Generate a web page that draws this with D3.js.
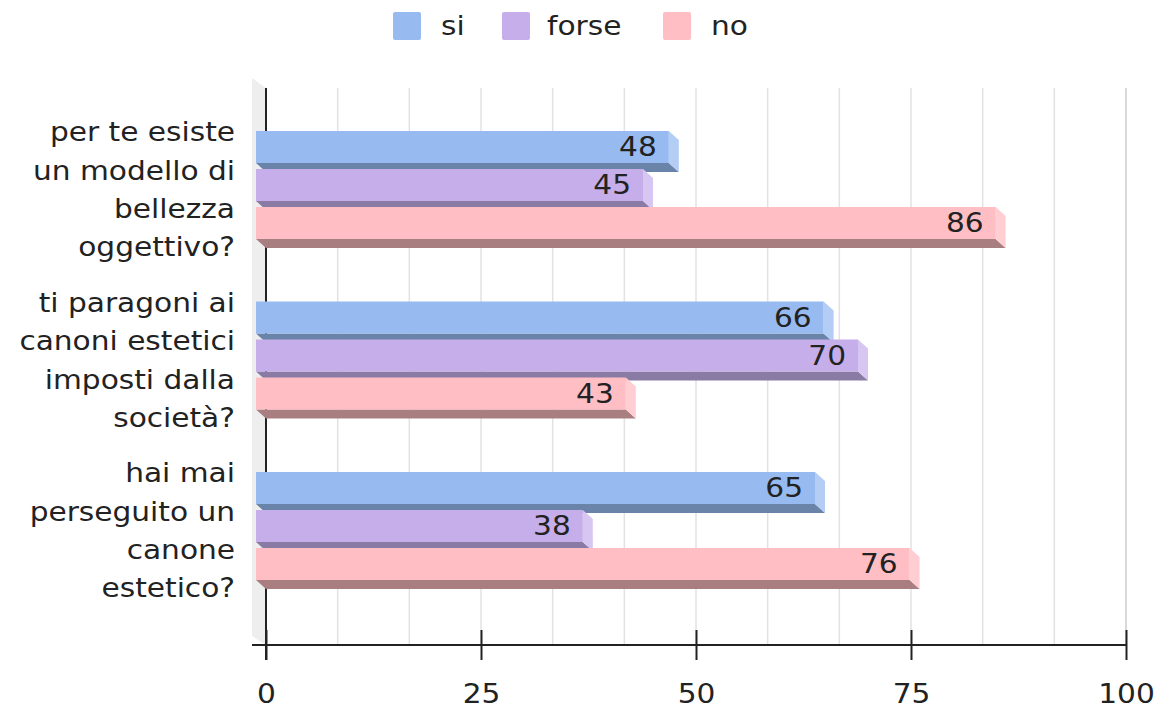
<!DOCTYPE html>
<html>
<head>
<meta charset="utf-8">
<script src="https://cdn.jsdelivr.net/npm/d3@7"></script>
<style>
  html, body { margin: 0; padding: 0; background: #fff; }
  svg { display: block; }
  text { font-family: "DejaVu Sans", Verdana, sans-serif; fill: #222; }
</style>
</head>
<body>
<svg id="chart" width="1157" height="709"></svg>
<script>
// ---- data ----
const categories = [
  "per te esiste|un modello di|bellezza|oggettivo?",
  "ti paragoni ai|canoni estetici|imposti dalla|società?",
  "hai mai|perseguito un|canone|estetico?"
];
const seriesNames = ["si", "forse", "no"];
const siValues = [48, 66, 65];
const forseValues = [45, 70, 38];
const noValues = [86, 43, 76];
const xTicks = [0, 25, 50, 75, 100];

const seriesValues = [siValues, forseValues, noValues];
const colors = {
  front: ["#97BBF0", "#C6AEEA", "#FFBEC4"],
  side:  ["#B3CDF5", "#D6C6F1", "#FFCED3"],
  bottom:["#6A83A8", "#8A7BA5", "#A87E81"]
};

const svg = d3.select("#chart");
const SX = 1.14;          // horizontal text stretch
const FS = 26;            // font size
const depth = {dx: 10, dy: 9};

const x = d3.scaleLinear().domain([0, 100]).range([266, 1126]);   // back plane
const y = d3.scaleBand().domain(categories).range([104.25, 615.75]).paddingInner(0);
const ySeries = d3.scaleBand().domain(seriesNames).range([0, 114]);
const barH = 32;
const groupOffset = (y.bandwidth() - 117) / 2;

const plotTop = 88, plotBottom = 645;

// wall (left side)
svg.append("polygon")
  .attr("points", [[252, 78], [266, 88], [266, plotBottom], [252, plotBottom - 9]].map(p => p.join(",")).join(" "))
  .attr("fill", "#EEEEEE");

// minor grid lines
const gridVals = d3.range(1, 13).map(i => i * 100 / 12);
svg.append("g").selectAll("line").data(gridVals).join("line")
  .attr("x1", d => x(d)).attr("x2", d => x(d))
  .attr("y1", plotTop).attr("y2", plotBottom)
  .attr("stroke", d => Math.abs(d - 100) < 1e-6 ? "#CCCCCC" : "#E2E2E2")
  .attr("stroke-width", 1.5);

// axes lines
svg.append("line").attr("x1", 266).attr("x2", 266).attr("y1", plotTop).attr("y2", 660)
  .attr("stroke", "#222").attr("stroke-width", 2);
svg.append("line").attr("x1", 252).attr("x2", x(100)).attr("y1", plotBottom).attr("y2", plotBottom)
  .attr("stroke", "#222").attr("stroke-width", 2);

// x axis ticks via d3 axis
const xAxis = d3.axisBottom(x).tickValues(xTicks).tickSize(15).tickFormat(d3.format("d"));
const gx = svg.append("g").attr("transform", `translate(0,${plotBottom})`).call(xAxis);
gx.select(".domain").remove();
gx.selectAll(".tick line").attr("y1", -15).attr("y2", 15).attr("stroke", "#222").attr("stroke-width", 2);
gx.selectAll(".tick text")
  .attr("y", 0).attr("dy", 0)
  .attr("transform", `translate(0,58) scale(${SX},1)`)
  .attr("font-size", FS).attr("font-family", "DejaVu Sans").attr("fill", "#222")
  .attr("text-anchor", "middle");

// bars
const bars = svg.append("g");
categories.forEach((cat, ci) => {
  seriesNames.forEach((s, si) => {
    const v = seriesValues[si][ci];
    const x0 = x(0) - depth.dx, x1 = x(v) - depth.dx;
    const y0 = y(cat) + groupOffset + ySeries(s), y1 = y0 + barH;
    const g = bars.append("g");
    g.append("polygon")
      .attr("points", [[x0, y1], [x1, y1], [x1 + depth.dx, y1 + depth.dy], [x0 + depth.dx, y1 + depth.dy]].map(p => p.join(",")).join(" "))
      .attr("fill", colors.bottom[si]);
    g.append("polygon")
      .attr("points", [[x1, y0], [x1 + depth.dx, y0 + depth.dy], [x1 + depth.dx, y1 + depth.dy], [x1, y1]].map(p => p.join(",")).join(" "))
      .attr("fill", colors.side[si]);
    g.append("rect")
      .attr("x", x0).attr("y", y0).attr("width", x1 - x0).attr("height", barH)
      .attr("fill", colors.front[si]);
    g.append("text")
      .attr("transform", `translate(${x1 - 12},${(y0 + y1) / 2}) scale(${SX},1)`)
      .attr("text-anchor", "end").attr("dy", "0.36em")
      .attr("font-size", FS)
      .text(v);
  });
});

// category labels
const labels = svg.append("g");
categories.forEach(cat => {
  const lines = cat.split("|");
  const cy = y(cat) + y.bandwidth() / 2;
  const lh = 38.4;
  lines.forEach((ln, i) => {
    const ly = cy + (i - (lines.length - 1) / 2) * lh;
    labels.append("text")
      .attr("transform", `translate(235,${ly}) scale(${SX},1)`)
      .attr("text-anchor", "end").attr("dy", "0.36em")
      .attr("font-size", FS)
      .text(ln);
  });
});

// legend
const legendItems = [
  {name: seriesNames[0], sx: 393, tx: 441},
  {name: seriesNames[1], sx: 502, tx: 547},
  {name: seriesNames[2], sx: 663, tx: 711}
];
const lg = svg.append("g");
legendItems.forEach((it, i) => {
  lg.append("rect").attr("x", it.sx).attr("y", 12).attr("width", 28).attr("height", 28)
    .attr("rx", 2).attr("fill", colors.front[i]);
  lg.append("text")
    .attr("transform", `translate(${it.tx},26) scale(${SX},1)`)
    .attr("dy", "0.36em").attr("font-size", FS)
    .text(it.name);
});
</script>
</body>
</html>
